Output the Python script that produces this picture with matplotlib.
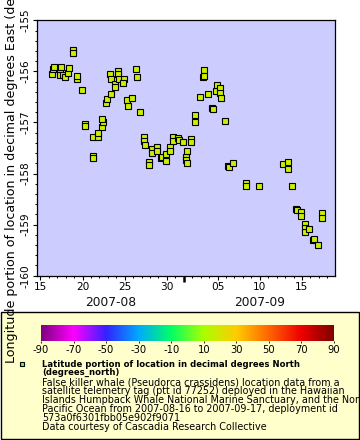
import matplotlib
matplotlib.use("Agg")
import matplotlib.pyplot as plt
import matplotlib.dates as mdates
import numpy as np
import pandas as pd
from matplotlib.colors import LinearSegmentedColormap
from matplotlib.patches import Rectangle
from matplotlib.lines import Line2D

plt.rcParams["axes.unicode_minus"] = False

# Time as day-of-August 2007 (32 = 2007-09-01), longitude in degrees East
day_of_aug = [16.35, 16.47, 16.59, 17.30, 17.30, 17.42, 17.73, 17.93, 18.24, 18.36,
              18.84, 18.84, 19.35, 19.31, 19.94, 20.26, 20.33, 21.28, 21.21, 21.24,
              21.83, 21.83, 22.31, 22.40, 22.31, 22.78, 22.87, 23.34, 23.22, 23.34,
              23.81, 23.85, 24.17, 24.24, 24.33, 24.88, 24.80, 25.24, 25.40, 25.86,
              26.30, 26.42, 26.81, 27.28, 27.28, 27.40, 27.88, 27.88, 28.27, 28.27,
              28.79, 28.79, 29.26, 29.38, 29.86, 29.86, 30.37, 30.37, 30.76, 30.76,
              31.35, 31.43, 31.87, 32.26, 32.35, 32.26, 32.35, 32.85, 32.85, 33.33,
              33.33, 33.88, 34.28, 34.40, 34.40, 34.83, 35.31, 35.43, 35.78, 35.90,
              36.26, 36.26, 36.38, 36.88, 37.28, 37.36, 37.79, 39.37, 39.37, 40.91,
              43.79, 44.31, 44.31, 44.82, 45.30, 45.45, 45.88, 45.85, 46.36, 46.36,
              46.36, 46.87, 47.35, 47.43, 47.86, 48.38, 48.38]
longitude = [-156.06, -155.95, -155.91, -156.01, -156.07, -155.91, -156.07, -156.11, -156.03, -155.93,
             -155.58, -155.64, -156.14, -156.09, -156.37, -157.03, -157.07, -157.66, -157.69, -157.28,
             -157.28, -157.20, -157.09, -156.99, -156.94, -156.62, -156.54, -156.44, -156.06, -156.15,
             -156.24, -156.31, -156.00, -156.06, -156.15, -156.15, -156.22, -156.56, -156.67, -156.52,
             -155.95, -156.11, -156.79, -157.29, -157.36, -157.45, -157.77, -157.84, -157.52, -157.59,
             -157.49, -157.56, -157.69, -157.67, -157.61, -157.75, -157.48, -157.56, -157.28, -157.36,
             -157.30, -157.35, -157.39, -157.67, -157.56, -157.74, -157.79, -157.33, -157.38, -156.86,
             -156.99, -156.50, -156.11, -155.97, -156.09, -156.44, -156.71, -156.73, -156.38, -156.27,
             -156.33, -156.42, -156.52, -156.97, -157.85, -157.88, -157.79, -158.18, -158.24, -158.24,
             -157.82, -157.77, -157.92, -158.24, -158.69, -158.72, -158.76, -158.84, -158.99, -159.07,
             -159.15, -159.09, -159.31, -159.29, -159.39, -158.77, -158.87]

y_ticks = [-155, -156, -157, -158, -159, -160]
cbar_ticks = [-90, -70, -50, -30, -10, 10, 30, 50, 70, 90]
month_labels = ["2007-08", "2007-09"]
y_label = "Longitude portion of location in decimal degrees East (degrees_east)"
legend_title = ["Latitude portion of location in decimal degrees North", "(degrees_north)"]
legend_lines = [
    "False killer whale (Pseudorca crassidens) location data from a",
    "satellite telemetry tag (ptt id 77252) deployed in the Hawaiian",
    "Islands Humpback Whale National Marine Sanctuary, and the North",
    "Pacific Ocean from 2007-08-16 to 2007-09-17, deployment id",
    "573a0f6301fbb05e902f9071",
    "Data courtesy of Cascadia Research Collective",
]

base = pd.Timestamp("2007-07-31")
times = [base + pd.Timedelta(days=d) for d in day_of_aug]
x_start = base + pd.Timedelta(days=14.57)
x_end = base + pd.Timedelta(days=49.95)
month_break = pd.Timestamp("2007-09-01")

W, H = 360, 440
fig = plt.figure(figsize=(3.6, 4.4), dpi=100)
fig.patch.set_facecolor("white")

def fx(px):
    return px / W

def fy(py):
    return 1 - py / H

# legend box (behind everything)
fig.patches.append(Rectangle((fx(0.5), fy(438.5)), fx(358.5), fy(312) - fy(438.5),
                             transform=fig.transFigure, facecolor="#ffffcc",
                             edgecolor="black", lw=1.0, zorder=-5))

ax = fig.add_axes([fx(36.7), fy(275.7), fx(335.3) - fx(36.7), fy(20.3) - fy(275.7)])
ax.set_facecolor("#ccccff")
ax.plot(times, longitude, linestyle="none", marker="s", markersize=3.7,
        markerfacecolor="#ccee00", markeredgecolor="black", markeredgewidth=0.8)

ax.set_xlim(x_start, x_end)
ax.set_ylim(-160, -155)
ax.set_yticks(y_ticks)
ax.yaxis.set_minor_locator(matplotlib.ticker.MultipleLocator(0.2))
ax.xaxis.set_major_locator(mdates.DayLocator(bymonthday=[5, 10, 15, 20, 25, 30]))
ax.xaxis.set_minor_locator(mdates.DayLocator())
ax.xaxis.set_major_formatter(mdates.DateFormatter("%d"))

for s in ax.spines.values():
    s.set_linewidth(0.9)
ax.tick_params(axis="both", which="major", direction="out", length=3, width=0.8, labelsize=7.6, pad=1.5)
ax.tick_params(axis="both", which="minor", direction="out", length=1.6, width=0.7)
ax.tick_params(axis="y", labelrotation=90)
for lab in ax.get_yticklabels():
    lab.set_va("center")
    lab.set_ha("right")

# month boundary tick
ax.plot([month_break, month_break], [0, -0.025], transform=ax.get_xaxis_transform(),
        clip_on=False, color="black", lw=1.8, solid_capstyle="butt")

# month labels centered in visible span of each month
mid1 = x_start + (month_break - x_start) / 2
mid2 = month_break + (x_end - month_break) / 2
for m, lab in zip([mid1, mid2], month_labels):
    ax.text(mdates.date2num(m), -26.5 / 255.4, lab, transform=ax.get_xaxis_transform(),
            ha="center", va="center", fontsize=8.8, color="#111111")

# colorbar
cmap = LinearSegmentedColormap.from_list("rainbow_erddap", [
    (0.0, "#800080"), (0.111, "#ff00ff"), (0.222, "#3322ff"), (0.333, "#00aaff"),
    (0.444, "#00ff66"), (0.556, "#aaff00"), (0.667, "#ffcc00"), (0.778, "#ff6600"),
    (0.889, "#ee0000"), (1.0, "#800000")])
cax = fig.add_axes([fx(41), fy(340.7), fx(334) - fx(41), fy(325) - fy(340.7)])
grad = np.linspace(-90, 90, 256).reshape(1, -1)
cax.imshow(grad, aspect="auto", cmap=cmap, extent=[-90, 90, 0, 1])
cax.set_xlim(-90, 90)
cax.set_yticks([])
cax.set_xticks(cbar_ticks)
cax.tick_params(axis="x", length=1.5, width=0.6, labelsize=7.2, pad=1.5)
for s in cax.spines.values():
    s.set_visible(False)

# legend marker and texts
fig.add_artist(Line2D([fx(22)], [fy(363.5)], marker="s", markersize=3.4,
                      markerfacecolor="#66ff44", markeredgecolor="black", markeredgewidth=0.8,
                      transform=fig.transFigure))
for py, t in zip([364, 372.7], legend_title):
    fig.text(fx(42), fy(py), t, fontsize=6.1, fontweight="bold", ha="left", va="center")
for i, t in enumerate(legend_lines):
    fig.text(fx(42), fy(382 + i * 8.95), t, fontsize=6.9, ha="left", va="center")

# y axis label (drawn over the legend box)
fig.text(fx(12), fy(363), y_label, rotation=90, ha="center", va="bottom", fontsize=9.1, zorder=10)

fig.savefig("out.png", dpi=100)
